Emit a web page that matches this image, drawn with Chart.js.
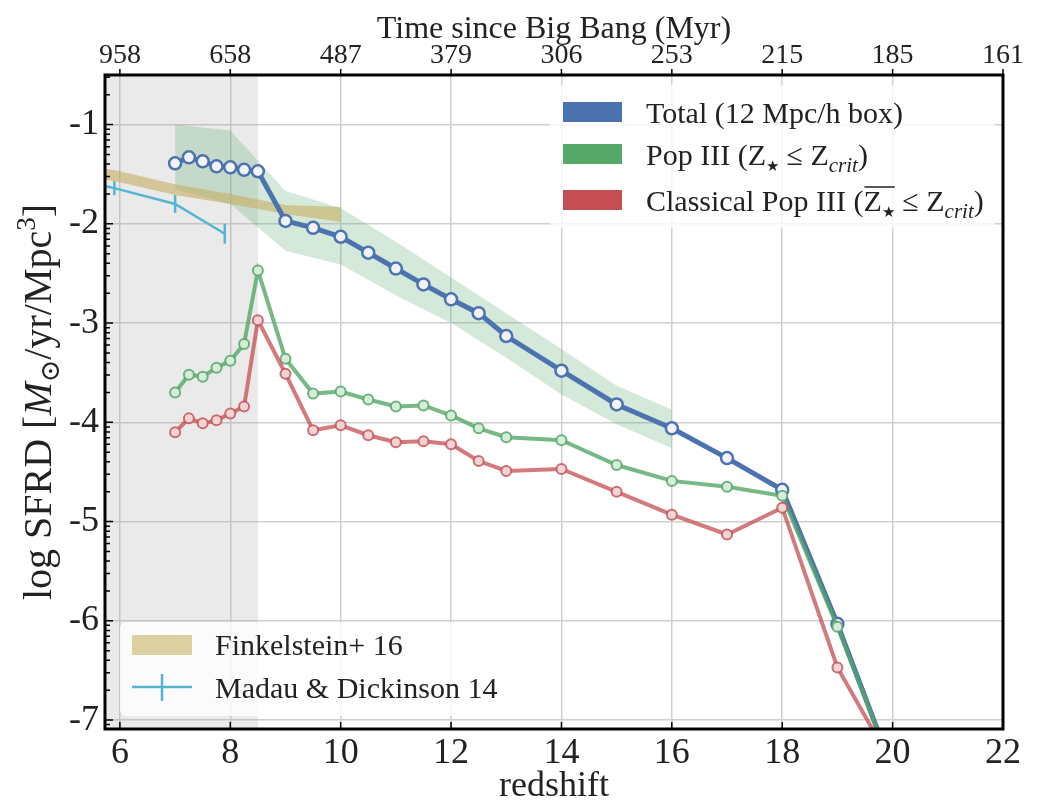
<!DOCTYPE html>
<html lang="en">
<head>
<meta charset="UTF-8">
<title>SFRD vs redshift</title>
<script src="https://cdn.jsdelivr.net/npm/chart.js@4.4.1/dist/chart.umd.min.js"></script>
<style>
  html, body { margin: 0; padding: 0; background: #fff; }
</style>
</head>
<body>
<canvas id="chart" width="1038" height="809"></canvas>
<script>
// ---- data ----
var Z_SIM = [7, 7.25, 7.5, 7.75, 8, 8.25, 8.5, 9, 9.5, 10, 10.5, 11, 11.5, 12, 12.5, 13, 14, 15, 16, 17, 18, 19, 20];
var TOTAL = [-1.39, -1.33, -1.37, -1.42, -1.43, -1.455, -1.47, -1.97, -2.04, -2.13, -2.29, -2.45, -2.61, -2.76, -2.90, -3.13, -3.48, -3.82, -4.06, -4.36, -4.68, -6.03, -7.5];
var POP3 = [-3.70, -3.52, -3.54, -3.45, -3.38, -3.21, -2.47, -3.36, -3.71, -3.69, -3.77, -3.84, -3.83, -3.93, -4.06, -4.15, -4.18, -4.43, -4.59, -4.65, -4.74, -6.06, -7.5];
var CLASSIC = [-4.10, -3.96, -4.01, -3.98, -3.91, -3.84, -2.97, -3.51, -4.08, -4.03, -4.13, -4.20, -4.19, -4.22, -4.39, -4.49, -4.47, -4.70, -4.93, -5.13, -4.86, -6.47, -7.45];

// spread of the total SFRD (green band)
var BAND_Z = [7, 8, 9, 10, 11, 12, 13, 14, 15, 16];
var BAND_HI = [-1.0, -1.06, -1.67, -1.84, -2.18, -2.54, -2.90, -3.26, -3.63, -3.87];
var BAND_LO = [-1.65, -1.80, -2.27, -2.41, -2.72, -3.00, -3.35, -3.72, -4.02, -4.26];

// Finkelstein+ 16
var FINK_Z = [5.5, 6, 7, 8, 9, 10];
var FINK_HI = [-1.42, -1.47, -1.60, -1.70, -1.81, -1.83];
var FINK_LO = [-1.53, -1.58, -1.71, -1.80, -1.90, -1.98];

// Madau & Dickinson 14
var MD_Z = [4.9, 5.9, 7.0, 7.9];
var MD_V = [-1.52, -1.64, -1.80, -2.10];
var MD_ERR = [0.08, 0.07, 0.09, 0.10];

// grey band (reionization era)
var SHADE_Z = [5.0, 8.5];

var X_TICKS = [6, 8, 10, 12, 14, 16, 18, 20, 22];
var TOP_LABELS = ['958', '658', '487', '379', '306', '253', '215', '185', '161'];
var Y_TICKS = [-7, -6, -5, -4, -3, -2, -1];

var X_MIN = 5.73, X_MAX = 22, Y_MIN = -7.09, Y_MAX = -0.5;

var SERIF = '"Liberation Serif", "Times New Roman", "DejaVu Serif", serif';
var TXT = '#222222';
var BLUE = '#4C72B0', GREEN = '#55A868', RED = '#C44E52', CYAN = '#56b4d3';

function pts(xs, ys) {
  return xs.map(function (x, i) { return { x: x, y: ys[i] }; });
}

var datasets = [
  { // grey shaded region
    data: [{ x: SHADE_Z[0], y: 0 }, { x: SHADE_Z[1], y: 0 }],
    borderWidth: 0, pointRadius: 0, fill: { value: -10 },
    backgroundColor: 'rgba(150,150,150,0.2)', order: 20
  },
  { data: pts(BAND_Z, BAND_HI), borderWidth: 0, pointRadius: 0, fill: false, order: 18 },
  { data: pts(BAND_Z, BAND_LO), borderWidth: 0, pointRadius: 0, fill: '-1',
    backgroundColor: 'rgba(85,168,104,0.25)', order: 18 },
  { data: pts(FINK_Z, FINK_HI), borderWidth: 0, pointRadius: 0, fill: false, order: 16 },
  { data: pts(FINK_Z, FINK_LO), borderWidth: 0, pointRadius: 0, fill: '-1',
    backgroundColor: 'rgba(196,170,90,0.55)', order: 16 },
  { data: pts(MD_Z, MD_V), borderColor: CYAN, borderWidth: 2.5, pointRadius: 0, order: 10 }
];

// vertical error bars
MD_Z.forEach(function (z, i) {
  datasets.push({
    data: [{ x: z, y: MD_V[i] - MD_ERR[i] }, { x: z, y: MD_V[i] + MD_ERR[i] }],
    borderColor: CYAN, borderWidth: 2.5, pointRadius: 0, order: 10
  });
});

datasets.push(
  { data: pts(Z_SIM, TOTAL), borderColor: BLUE, borderWidth: 5,
    pointRadius: 6, pointBorderWidth: 2.5, pointBorderColor: BLUE,
    pointBackgroundColor: '#f2f2fa', order: 3 },
  { data: pts(Z_SIM, POP3), borderColor: 'rgba(85,168,104,0.8)', borderWidth: 4,
    pointRadius: 5, pointBorderWidth: 2, pointBorderColor: 'rgba(85,168,104,0.85)',
    pointBackgroundColor: '#d7ecdb', order: 2 },
  { data: pts(Z_SIM, CLASSIC), borderColor: 'rgba(196,78,82,0.75)', borderWidth: 4,
    pointRadius: 5, pointBorderWidth: 2, pointBorderColor: 'rgba(196,78,82,0.8)',
    pointBackgroundColor: '#f1d5d6', order: 1 }
);

// text with sub/superscripts
function runsWidth(ctx, runs, base) {
  var w = 0;
  runs.forEach(function (r) {
    ctx.font = (r.italic ? 'italic ' : '') + (r.size || base) + 'px ' + SERIF;
    w += ctx.measureText(r.t).width;
  });
  return w;
}
function drawRuns(ctx, runs, x, y, base) {
  var cx = x, ovStart = null;
  ctx.textAlign = 'left';
  ctx.textBaseline = 'alphabetic';
  runs.forEach(function (r) {
    ctx.font = (r.italic ? 'italic ' : '') + (r.size || base) + 'px ' + SERIF;
    var w = ctx.measureText(r.t).width;
    if (r.over && ovStart === null) ovStart = cx;
    ctx.fillText(r.t, cx, y + (r.dy || 0));
    cx += w;
    if (r.overEnd) {
      ctx.beginPath();
      ctx.moveTo(ovStart + 1, y - base * 0.8);
      ctx.lineTo(cx, y - base * 0.8);
      ctx.lineWidth = 1.5;
      ctx.strokeStyle = TXT;
      ctx.stroke();
      ovStart = null;
    }
  });
}

var decor = {
  id: 'decor',
  afterDatasetsDraw: function (chart) {
    var ctx = chart.ctx, a = chart.chartArea;
    var xs = chart.scales.x, ys = chart.scales.y;
    ctx.save();

    // legend boxes
    ctx.fillStyle = 'rgba(255,255,255,0.8)';
    ctx.beginPath();
    ctx.roundRect(550, 85, 445, 143, 6);
    ctx.fill();
    ctx.beginPath();
    ctx.roundRect(120, 622, 388, 94, 6);
    ctx.fill();

    // upper legend
    var entries = [
      { c: BLUE, y: 123, runs: [{ t: 'Total (12 Mpc/h box)' }] },
      { c: GREEN, y: 165, runs: [{ t: 'Pop III (' }, { t: 'Z' }, { t: '\u2605', size: 15, dy: 6 },
        { t: ' \u2264 ' }, { t: 'Z' }, { t: 'crit', italic: true, size: 21, dy: 7 }, { t: ')' }] },
      { c: RED, y: 211, runs: [{ t: 'Classical Pop III (' }, { t: 'Z', over: true },
        { t: '\u2605', size: 15, dy: 6, overEnd: true },
        { t: ' \u2264 ' }, { t: 'Z' }, { t: 'crit', italic: true, size: 21, dy: 7 }, { t: ')' }] }
    ];
    entries.forEach(function (e) {
      ctx.fillStyle = e.c;
      ctx.fillRect(563, e.y - 21, 59, 20);
      ctx.fillStyle = TXT;
      drawRuns(ctx, e.runs, 646, e.y, 30);
    });

    // lower legend
    ctx.fillStyle = '#ddd0a0';
    ctx.fillRect(132, 635, 60, 20);
    ctx.strokeStyle = CYAN;
    ctx.lineWidth = 2.5;
    ctx.beginPath();
    ctx.moveTo(132, 687); ctx.lineTo(192, 687);
    ctx.moveTo(162, 674); ctx.lineTo(162, 701);
    ctx.stroke();
    ctx.fillStyle = TXT;
    drawRuns(ctx, [{ t: 'Finkelstein+ 16' }], 215, 655, 30);
    drawRuns(ctx, [{ t: 'Madau & Dickinson 14' }], 215, 698, 30);

    // spines
    ctx.strokeStyle = '#000';
    ctx.lineWidth = 3;
    ctx.strokeRect(a.left, a.top, a.right - a.left, a.bottom - a.top);

    // tick marks
    ctx.lineWidth = 1.5;
    ctx.beginPath();
    X_TICKS.forEach(function (v) {
      var px = xs.getPixelForValue(v);
      ctx.moveTo(px, a.bottom); ctx.lineTo(px, a.bottom - 7);
      ctx.moveTo(px, a.top); ctx.lineTo(px, a.top - 6);
    });
    for (var n = -8; n <= 0; n++) {
      for (var k = 1; k <= 9; k++) {
        var v = n + Math.log10(k);
        if (v < Y_MIN || v > Y_MAX) continue;
        var py = ys.getPixelForValue(v);
        ctx.moveTo(a.left, py);
        ctx.lineTo(a.left + (k === 1 ? 8 : 5), py);
      }
    }
    ctx.stroke();
    ctx.restore();
  },
  afterDraw: function (chart) {
    var ctx = chart.ctx, a = chart.chartArea;
    var runs = [{ t: 'log SFRD [' }, { t: 'M', italic: true }, { t: '\u2299', size: 27, dy: 8 },
      { t: '/yr/Mpc' }, { t: '3', size: 27, dy: -16 }, { t: ']' }];
    ctx.save();
    ctx.fillStyle = TXT;
    ctx.translate(51, (a.top + a.bottom) / 2);
    ctx.rotate(-Math.PI / 2);
    var w = runsWidth(ctx, runs, 40);
    drawRuns(ctx, runs, -w / 2, 0, 40);
    ctx.restore();
  }
};

var gridOpts = { color: '#d0d0d0', lineWidth: 1.5, drawTicks: false };

new Chart(document.getElementById('chart').getContext('2d'), {
  type: 'line',
  data: { datasets: datasets },
  options: {
    responsive: false,
    animation: false,
    events: [],
    layout: { padding: { left: 0, right: 35, top: 0, bottom: 0 } },
    plugins: { legend: { display: false }, tooltip: { enabled: false } },
    scales: {
      x: {
        type: 'linear', position: 'bottom', min: X_MIN, max: X_MAX,
        afterBuildTicks: function (s) { s.ticks = X_TICKS.map(function (v) { return { value: v }; }); },
        afterFit: function (s) { s.height = 80; },
        grid: gridOpts, border: { display: false },
        ticks: { font: { family: SERIF, size: 36 }, color: TXT, padding: 3, maxRotation: 0, autoSkip: false },
        title: { display: true, text: 'redshift', font: { family: SERIF, size: 36 }, color: TXT,
          padding: { top: 0, bottom: 1 } }
      },
      x2: {
        type: 'linear', position: 'top', min: X_MIN, max: X_MAX,
        afterBuildTicks: function (s) { s.ticks = X_TICKS.map(function (v) { return { value: v }; }); },
        afterFit: function (s) { s.height = 75; },
        grid: { display: false, drawTicks: false }, border: { display: false },
        ticks: { font: { family: SERIF, size: 28 }, color: TXT, padding: 3, maxRotation: 0, autoSkip: false,
          callback: function (v) { return TOP_LABELS[X_TICKS.indexOf(v)]; } },
        title: { display: true, text: 'Time since Big Bang (Myr)', font: { family: SERIF, size: 32 }, color: TXT,
          padding: { top: 10, bottom: 0 } }
      },
      y: {
        type: 'linear', position: 'left', min: Y_MIN, max: Y_MAX,
        afterBuildTicks: function (s) { s.ticks = Y_TICKS.map(function (v) { return { value: v }; }); },
        afterFit: function (s) { s.width = 105; },
        grid: gridOpts, border: { display: false },
        ticks: { font: { family: SERIF, size: 36 }, color: TXT, padding: 6,
          callback: function (v) { return String(v); } }
      }
    }
  },
  plugins: [decor]
});
</script>
</body>
</html>
